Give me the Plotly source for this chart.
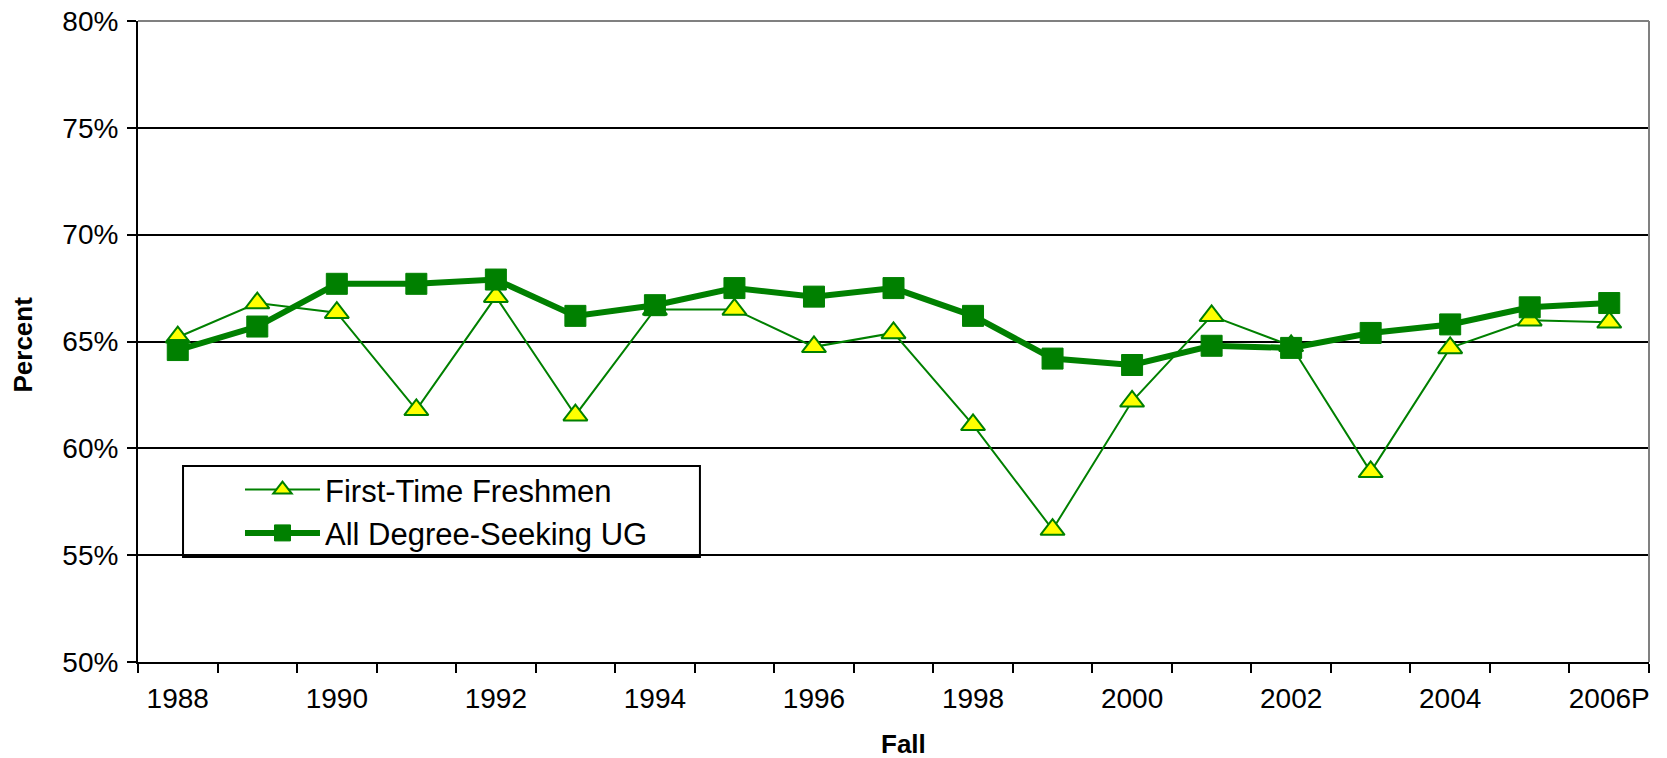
import plotly.graph_objects as go

years = ["1988", "1989", "1990", "1991", "1992", "1993", "1994", "1995", "1996", "1997",
         "1998", "1999", "2000", "2001", "2002", "2003", "2004", "2005", "2006P"]
tick_text = ["1988", "", "1990", "", "1992", "", "1994", "", "1996", "",
             "1998", "", "2000", "", "2002", "", "2004", "", "2006P"]
freshmen = [65.2, 66.8, 66.35, 61.8, 67.1, 61.55, 66.5, 66.5, 64.75, 65.4,
            61.1, 56.2, 62.2, 66.2, 64.8, 58.9, 64.7, 66.0, 65.9]
all_ug = [64.6, 65.7, 67.7, 67.7, 67.9, 66.2, 66.7, 67.5, 67.1, 67.5,
          66.2, 64.2, 63.9, 64.8, 64.7, 65.4, 65.8, 66.6, 66.8]
y_ticks = [50, 55, 60, 65, 70, 75, 80]

GREEN = "#008000"
FONT = "Liberation Sans, Arial, sans-serif"

fig = go.Figure()
fig.add_trace(go.Scatter(
    x=years, y=freshmen, name="First-Time Freshmen", mode="lines+markers",
    line=dict(color=GREEN, width=2),
    marker=dict(symbol="triangle-up", size=21, color="#FFFF00",
                line=dict(color=GREEN, width=2)),
))
fig.add_trace(go.Scatter(
    x=years, y=all_ug, name="All Degree-Seeking UG", mode="lines+markers",
    line=dict(color=GREEN, width=6),
    marker=dict(symbol="square", size=21, color=GREEN,
                line=dict(color=GREEN, width=1)),
))

# plot area: x 138..1649, y 21..662 (page pixels)
fig.update_layout(
    width=1667, height=758,
    margin=dict(l=138, r=18, t=21, b=96, autoexpand=False),
    paper_bgcolor="white", plot_bgcolor="white",
    font=dict(family=FONT, size=28, color="black"),
    showlegend=True,
    legend=dict(
        x=0.0675, y=0.3105, xanchor="left", yanchor="top",
        bgcolor="rgba(0,0,0,0)", borderwidth=0,
        font=dict(family=FONT, size=31, color="black"),
        itemwidth=75, traceorder="normal",
    ),
    shapes=[
        dict(type="rect", xref="paper", yref="paper",
             x0=0.0298, x1=0.3719, y0=0.1638, y1=0.3058,
             line=dict(color="black", width=2), fillcolor="white", layer="below"),
        dict(type="line", xref="paper", yref="paper", x0=0, x1=1, y0=1, y1=1,
             line=dict(color="#808080", width=2), layer="above"),
        dict(type="line", xref="paper", yref="paper", x0=1, x1=1, y0=0, y1=1,
             line=dict(color="#808080", width=2), layer="above"),
    ],
    annotations=[
        dict(text="<b>Percent</b>", xref="paper", yref="paper", x=0, y=0.4953,
             xshift=-115, xanchor="center", yanchor="middle",
             textangle=-90, showarrow=False,
             font=dict(family=FONT, size=26, color="black")),
        dict(text="<b>Fall</b>", xref="paper", yref="paper", x=0.5063, y=0,
             yshift=-82, showarrow=False, xanchor="center", yanchor="middle",
             font=dict(family=FONT, size=26, color="black")),
    ],
)

fig.update_xaxes(
    type="category", range=[-0.5, 18.5], automargin=False,
    tickmode="array", tickvals=years, ticktext=tick_text, tickangle=0,
    tickson="boundaries", ticks="outside", ticklen=9, tickwidth=2, tickcolor="black",
    ticklabelstandoff=10,
    showline=True, linecolor="black", linewidth=2, showgrid=False,
    tickfont=dict(family=FONT, size=28, color="black"),
)
fig.update_yaxes(
    range=[50, 80], tickmode="array", tickvals=y_ticks, automargin=False,
    ticktext=[f"{v}%" for v in y_ticks],
    ticks="outside", ticklen=9, tickwidth=2, tickcolor="black",
    ticklabelstandoff=3,
    showline=True, linecolor="black", linewidth=2,
    showgrid=True, gridcolor="black", gridwidth=2, zeroline=False,
    tickfont=dict(family=FONT, size=28, color="black"),
)

fig.write_html("out.html", config={"displayModeBar": False},
               post_script="document.body.style.margin='0';")
